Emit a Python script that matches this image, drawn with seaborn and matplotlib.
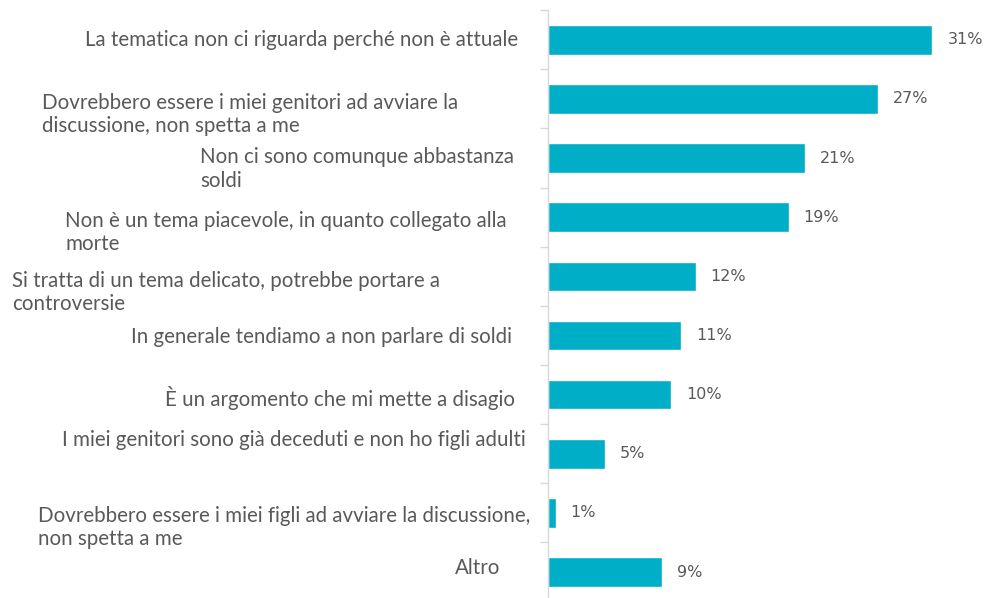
import matplotlib
matplotlib.use('Agg')
import matplotlib.pyplot as plt
import seaborn as sns
import pandas as pd

# data
labels = [
    'La tematica non ci riguarda perché non è attuale',
    'Dovrebbero essere i miei genitori ad avviare la\ndiscussione, non spetta a me',
    'Non ci sono comunque abbastanza\nsoldi',
    'Non è un tema piacevole, in quanto collegato alla\nmorte',
    'Si tratta di un tema delicato, potrebbe portare a\ncontroversie',
    'In generale tendiamo a non parlare di soldi',
    'È un argomento che mi mette a disagio',
    'I miei genitori sono già deceduti e non ho figli adulti',
    'Dovrebbero essere i miei figli ad avviare la discussione,\nnon spetta a me',
    'Altro',
]
# bar lengths as measured; the printed labels are rounded
values = [31.0, 26.6, 20.7, 19.4, 11.9, 10.7, 9.9, 4.6, 0.6, 9.2]

# label placement (pixels): left edge relative to axis, vertical shift
label_dx = [-463, -506, -348, -483, -536, -417, -383, -486, -510, -93]
label_dy = [0, -16, -11, -15, -16, -2, -3, 14, -15, 4]

sns.set_style('white')
plt.rcParams['font.family'] = ['Lato', 'DejaVu Sans']

df = pd.DataFrame({'label': labels, 'value': values})

fig = plt.figure(figsize=(9.84, 5.98), dpi=100)
ax = fig.add_axes([0.557, -0.006, 0.441, 0.989])
sns.barplot(data=df, y='label', x='value', orient='h', color='#00AEC7',
            width=0.5, saturation=1, ax=ax)

ax.set_xlim(0, 35)
ax.set_ylim(len(labels) - 0.5, -0.5)
ax.set_xlabel('')
ax.set_ylabel('')
ax.set_xticks([])
ax.set_yticks([i - 0.5 for i in range(len(labels) + 1)])
ax.set_yticklabels([])
ax.tick_params(axis='y', length=6, width=1, color='#D9D9D9', left=True)
for s in ['top', 'right', 'bottom']:
    ax.spines[s].set_visible(False)
ax.spines['left'].set_color('#D9D9D9')
ax.spines['left'].set_linewidth(1)

ytr = ax.get_yaxis_transform()
for i, lab in enumerate(labels):
    ax.annotate(lab, xy=(0, i), xycoords=ytr, xytext=(label_dx[i], label_dy[i]),
                textcoords='offset pixels', ha='left', va='center',
                fontsize=14.8, color='#595959', linespacing=1.2,
                annotation_clip=False)

for bar, v in zip(ax.patches, values):
    ax.annotate(f'{round(v)}%', xy=(bar.get_width(), bar.get_y() + bar.get_height() / 2),
                xytext=(15, 0), textcoords='offset pixels', ha='left', va='center',
                fontsize=11.5, color='#595959', family='DejaVu Sans')

fig.savefig('out.png', dpi=100)
